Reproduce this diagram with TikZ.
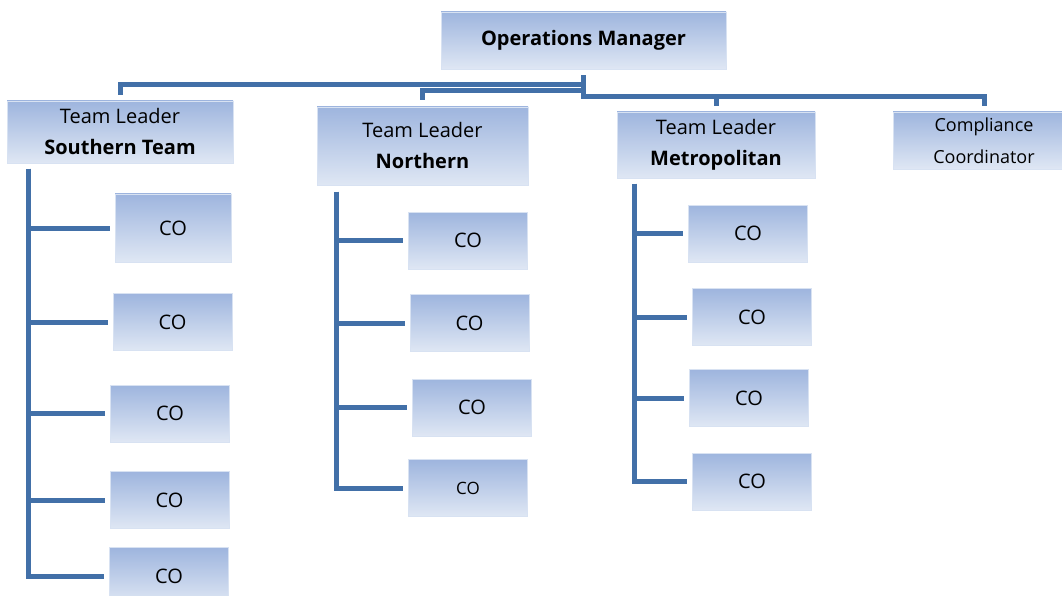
\documentclass[tikz,border=0pt]{standalone}
\usepackage{fontspec}
\setmainfont{Open Sans}
\definecolor{boxtop}{RGB}{158,181,222}
\definecolor{boxbot}{RGB}{223,231,244}
\definecolor{boxedge}{RGB}{216,226,242}
\definecolor{linkcol}{RGB}{66,112,168}
\begin{document}
\begin{tikzpicture}[x=1pt,y=-1pt,
    box/.style={top color=boxtop, bottom color=boxbot, draw=boxedge, line width=0.8pt,
        inner sep=0pt, align=center, font=\fontsize{20}{31}\selectfont},
    cobox/.style={box, minimum width=119pt, minimum height=57pt},
    link/.style={draw=linkcol, line width=5pt}]
    \useasboundingbox (0,0) rectangle (1062,596);
    \node[box, minimum width=285pt, minimum height=57pt] (mgr) at (583.5,40.5) {\textbf{Operations Manager}};
    \node[box, minimum width=226pt, minimum height=62pt] (sth) at (120,132) {Team Leader\\\textbf{Southern Team}};
    \node[box, minimum width=211pt, minimum height=78pt] (nth) at (422.5,146) {Team Leader\\\textbf{Northern}};
    \node[box, minimum width=198pt, minimum height=66pt] (met) at (716,145) {Team Leader\\\textbf{Metropolitan}};
    \node[box, minimum width=182pt, minimum height=57pt, font=\fontsize{18}{32}\selectfont] (cmp) at (984,140.5) {Compliance\\Coordinator};
    % CO boxes
    \node[cobox, minimum width=116pt, minimum height=68pt] (s1) at (173,228) {CO};
    \foreach \i/\x/\y in {2/172.5/322, 3/170/413.5, 4/169.5/500, 5/169/576}
        \node[cobox] (s\i) at (\x,\y) {CO};
    \foreach \i/\x/\y in {1/468/240.5, 2/469.5/323, 3/472/407.5}
        \node[cobox] (n\i) at (\x,\y) {CO};
    \node[cobox, font=\fontsize{17}{20}\selectfont] (n4) at (468,488) {CO};
    \foreach \i/\x/\y in {1/748/233.5, 2/752/317, 3/749/398, 4/752/481.5}
        \node[cobox] (m\i) at (\x,\y) {CO};
    % top connectors
    \coordinate (hubA) at (583.5,85);
    \coordinate (hubB) at (583.5,91);
    \coordinate (hubC) at (583.5,97);
    \draw[link, shorten <=6pt, shorten >=6pt] (mgr.south) |- (hubC) -| (cmp.north);
    \draw[link, shorten >=6pt] (hubC) -| (met.north);
    \draw[link, shorten >=6pt] (hubA) -| (sth.north);
    \draw[link, shorten >=7pt] (hubB) -| (nth.north);
    % team lines
    \coordinate (sspine) at (28,169);
    \coordinate (nspine) at (336,192);
    \coordinate (mspine) at (634,184);
    \foreach \i in {1,...,5}
        \draw[link, shorten >=5pt] (sspine) |- (s\i.west);
    \foreach \i in {1,...,4}{
        \draw[link, shorten >=5pt] (nspine) |- (n\i.west);
        \draw[link, shorten >=5pt] (mspine) |- (m\i.west);
    }
\end{tikzpicture}
\end{document}
